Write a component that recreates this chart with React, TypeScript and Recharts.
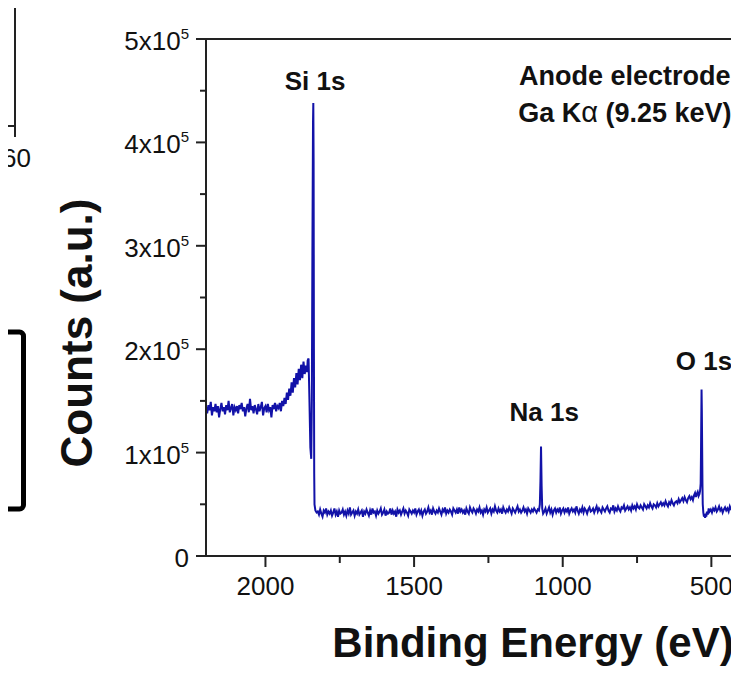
import React from 'react';
import { LineChart, Line, XAxis, YAxis, ReferenceLine, ReferenceDot, Label } from 'recharts';

const FONT = '"Liberation Sans", Arial, Helvetica, sans-serif';
const INK = '#222222';
const TXT = '#111111';
const BLUE = '#1212a8';

// Binding energy (eV), descending
const energy = [
  // high-energy background
  2200, 2196, 2192, 2188, 2184, 2180, 2176, 2172, 2168, 2164,
  2160, 2156, 2152, 2148, 2144, 2140, 2136, 2132, 2128, 2124,
  2120, 2116, 2112, 2108, 2104, 2100, 2096, 2092, 2088, 2084,
  2080, 2076, 2072, 2068, 2064, 2060, 2056, 2052, 2048, 2044,
  2040, 2036, 2032, 2028, 2024, 2020, 2016, 2012, 2008, 2004,
  2000, 1996, 1992, 1988, 1984, 1980, 1976, 1972, 1968, 1964,
  1960,
  // Si 1s edge and peak
  1956, 1952, 1948, 1944, 1940, 1936, 1932, 1928, 1924, 1920,
  1916, 1912, 1908, 1904, 1900, 1896, 1892, 1888, 1884, 1880,
  1876, 1872, 1868, 1864, 1860,
  1858, 1855, 1852, 1849, 1846, 1844, 1842, 1840, 1839, 1838,
  1837, 1836, 1835, 1832, 1828,
  // flat background
  1824, 1820, 1816, 1812, 1808, 1804, 1800, 1796, 1792, 1788,
  1784, 1780, 1776, 1772, 1768, 1764, 1760, 1756, 1752, 1748,
  1744, 1740, 1736, 1732, 1728, 1724, 1720, 1716, 1712, 1708,
  1704, 1700, 1696, 1692, 1688, 1684, 1680, 1676, 1672, 1668,
  1664, 1660, 1656, 1652, 1648, 1644, 1640, 1636, 1632, 1628,
  1624, 1620, 1616, 1612, 1608, 1604, 1600, 1596, 1592, 1588,
  1584, 1580, 1576, 1572, 1568, 1564, 1560, 1556, 1552, 1548,
  1544, 1540, 1536, 1532, 1528, 1524, 1520, 1516, 1512, 1508,
  1504, 1500, 1496, 1492, 1488, 1484, 1480, 1476, 1472, 1468,
  1464, 1460, 1456, 1452, 1448, 1444, 1440, 1436, 1432, 1428,
  1424, 1420, 1416, 1412, 1408, 1404, 1400, 1396, 1392, 1388,
  1384, 1380, 1376, 1372, 1368, 1364, 1360, 1356, 1352, 1348,
  1344, 1340, 1336, 1332, 1328, 1324, 1320, 1316, 1312, 1308,
  1304, 1300, 1296, 1292, 1288, 1284, 1280, 1276, 1272, 1268,
  1264, 1260, 1256, 1252, 1248, 1244, 1240, 1236, 1232, 1228,
  1224, 1220, 1216, 1212, 1208, 1204, 1200, 1196, 1192, 1188,
  1184, 1180, 1176, 1172, 1168, 1164, 1160, 1156, 1152, 1148,
  1144, 1140, 1136, 1132, 1128, 1124, 1120, 1116, 1112, 1108,
  1104, 1100, 1096, 1092, 1088, 1084,
  // Na 1s
  1080, 1077, 1075, 1073, 1071, 1069, 1066,
  // background
  1062, 1058, 1054, 1050, 1046, 1042, 1038, 1034, 1030, 1026,
  1022, 1018, 1014, 1010, 1006, 1002, 998, 994, 990, 986,
  982, 978, 974, 970, 966, 962, 958, 954, 950, 946,
  942, 938, 934, 930, 926, 922, 918, 914, 910, 906,
  902, 898, 894, 890, 886, 882, 878, 874, 870, 866,
  862, 858, 854, 850, 846, 842, 838, 834, 830, 826,
  822, 818, 814, 810, 806, 802, 798, 794, 790, 786,
  782, 778, 774, 770, 766, 762, 758, 754, 750, 746,
  742, 738, 734, 730, 726, 722, 718, 714, 710, 706,
  702, 698, 694, 690, 686, 682, 678, 674, 670, 666,
  662, 658, 654, 650, 646, 642, 638, 634, 630, 626,
  622,
  // O 1s
  618, 614, 610, 606, 602, 598, 594, 590, 586, 582,
  578, 574, 570, 566, 562, 558, 555, 552, 549, 546,
  543, 540, 538, 536, 535, 534, 533, 532, 531, 530,
  529, 527, 525, 523, 521, 519, 517, 515, 512, 509,
  506,
  // low-energy background
  502, 498, 494, 490, 486, 482, 478, 474, 470, 466,
  462, 458, 454, 450, 446, 442, 438, 434, 430, 426,
  422, 418, 414, 410, 406, 402, 398, 394,
];

// Counts in units of 10^3
const countsK = [
  143, 138, 146, 141, 149, 136, 144, 140, 147, 139,
  145, 134, 142, 148, 140, 144, 137, 146, 141, 150,
  139, 143, 147, 136, 144, 141, 145, 138, 146, 142,
  148, 140, 144, 135, 143, 147, 139, 152, 141, 145,
  138, 146, 142, 137, 147, 140, 144, 149, 136, 143,
  145, 139, 147, 141, 144, 134, 146, 142, 148, 140,
  145,
  143, 148, 140, 150, 145, 153, 147, 158, 151, 162,
  155, 168, 158, 172, 163, 177, 166, 181, 170, 185,
  172, 188, 176, 184, 178,
  189, 191, 150, 105, 94, 150, 300, 420, 438, 380,
  200, 80, 50, 44, 42,
  43, 40, 45, 41, 38, 44, 42, 46, 40, 43,
  41, 44, 39, 42, 46, 40, 43, 38, 44, 41,
  42, 45, 40, 43, 39, 44, 41, 47, 40, 42,
  44, 39, 43, 41, 45, 40, 42, 44, 38, 43,
  41, 45, 42, 39, 44, 40, 46, 42, 43, 39,
  44, 41, 43, 46, 40, 42, 45, 39, 43, 41,
  42, 46, 40, 44, 41, 43, 38, 45, 42, 44,
  40, 43, 46, 41, 44, 42, 39, 45, 43, 41,
  44, 42, 46, 40, 43, 45, 41, 44, 39, 43,
  45, 41, 43, 47, 42, 44, 40, 46, 43, 41,
  44, 42, 46, 43, 40, 45, 43, 47, 41, 44,
  42, 45, 43, 40, 46, 44, 42, 45, 41, 47,
  43, 45, 42, 44, 40, 46, 43, 41, 47, 44,
  42, 46, 44, 41, 45, 43, 47, 42, 44, 40,
  45, 43, 47, 42, 44, 46, 41, 45, 43, 48,
  44, 42, 46, 43, 45, 41, 47, 44, 42, 45,
  43, 47, 44, 41, 46, 44, 42, 45, 48, 43,
  45, 42, 44, 47, 43, 45, 41, 46, 44, 42,
  45, 43, 46, 44, 42, 45,
  44, 50, 72, 106, 68, 46, 41,
  43, 46, 41, 44, 47, 42, 45, 40, 44, 46,
  42, 45, 43, 47, 41, 44, 46, 42, 45, 43,
  47, 41, 44, 46, 43, 45, 42, 48, 44, 41,
  45, 43, 47, 42, 46, 44, 41, 45, 47, 43,
  44, 46, 42, 45, 48, 43, 46, 44, 42, 47,
  45, 43, 46, 48, 44, 42, 46, 45, 49, 43,
  46, 44, 48, 45, 43, 47, 46, 49, 44, 46,
  48, 45, 47, 44, 49, 46, 48, 45, 50, 47,
  46, 49, 47, 45, 50, 48, 46, 49, 47, 51,
  48, 46, 50, 49, 47, 51, 48, 50, 52, 49,
  51, 49, 53, 50, 48, 52, 50, 54, 51, 49,
  52,
  53, 51, 55, 52, 54, 56, 53, 57, 54, 52,
  56, 58, 55, 57, 54, 59, 61, 57, 60, 62,
  58, 60, 63, 70, 95, 130, 161, 140, 105, 70,
  50, 42, 38, 40, 37, 41, 38, 43, 40, 46,
  43,
  45, 42, 46, 44, 47, 43, 45, 48, 44, 46,
  42, 45, 47, 44, 46, 43, 48, 45, 44, 46,
  42, 45, 47, 44, 46, 43, 45, 47,
];

const xMajorTicks = [2000, 1500, 1000, 500];
const xMinorTicks = [1750, 1250, 750];
const yMajorTicks = [0, 100000, 200000, 300000, 400000, 500000];
const yMinorTicks = [50000, 150000, 250000, 350000, 450000];

const xTicks = [...xMajorTicks, ...xMinorTicks].sort((a, b) => b - a);
const yTicks = [...yMajorTicks, ...yMinorTicks].sort((a, b) => a - b);

const data = energy.map((e, i) => ({ energy: e, counts: countsK[i] * 1000 }));

const YTick = (props: any) => {
  const { x, y, payload } = props;
  const v = payload.value;
  const major = yMajorTicks.includes(v);
  return (
    <g>
      <line x1={x} x2={x - (major ? 10 : 6)} y1={y} y2={y} stroke={INK} strokeWidth={2} />
      {major && (
        <text x={x - 17} y={y + 11} textAnchor="end" fontFamily={FONT} fontSize={26} fill={TXT}>
          {v === 0 ? (
            '0'
          ) : (
            <>
              {`${v / 100000}x10`}
              <tspan dy={-11} fontSize={15}>5</tspan>
            </>
          )}
        </text>
      )}
    </g>
  );
};

const XTick = (props: any) => {
  const { x, y, payload } = props;
  const v = payload.value;
  const major = xMajorTicks.includes(v);
  return (
    <g>
      <line x1={x} x2={x} y1={y} y2={y + (major ? 11 : 7)} stroke={INK} strokeWidth={2} />
      {major && (
        <text x={x} y={y + 39} textAnchor="middle" fontFamily={FONT} fontSize={26} fill={TXT}>
          {String(v)}
        </text>
      )}
    </g>
  );
};

const boldStyle = { fontFamily: FONT, fontSize: 26, fontWeight: 700, fill: TXT };

const YLabel = (p: any) => {
  const vb = p.viewBox;
  const cx = vb.x + 84;
  const cy = vb.y + vb.height / 2 + 35.5;
  return (
    <text
      x={cx}
      y={cy}
      transform={`rotate(-90 ${cx} ${cy})`}
      textAnchor="middle"
      fontFamily={FONT}
      fontSize={44}
      fontWeight={700}
      fill={TXT}
    >
      Counts (a.u.)
    </text>
  );
};

const SourceLabel = (p: any) => {
  const vb = p.viewBox;
  const cx = vb.x + vb.width / 2;
  const cy = vb.y + vb.height / 2;
  return (
    <text x={cx} y={cy} textAnchor="middle" fontFamily={FONT} fontSize={27} fontWeight={700} fill={TXT}>
      <tspan x={cx} dy={9.4}>Anode electrode</tspan>
      <tspan x={cx} dy={37}>
        Ga K<tspan fontWeight={400} fontSize={29}>α</tspan> (9.25 keV)
      </tspan>
    </text>
  );
};

export default function App() {
  return (
    <div style={{ position: 'relative', width: 731, height: 666, marginBottom: -8 }}>
      <div style={{ width: 731, height: 666, overflow: 'hidden' }}>
        <LineChart width={872} height={666} data={data} margin={{ top: 31, right: 20, bottom: 0, left: 0 }}>
          <XAxis
            dataKey="energy"
            type="number"
            domain={[0, 2200]}
            reversed
            ticks={xTicks}
            interval={0}
            tick={<XTick />}
            tickLine={false}
            tickSize={0}
            tickMargin={0}
            axisLine={{ stroke: INK, strokeWidth: 2 }}
            height={118}
          >
            <Label
              value="Binding Energy (eV)"
              position="insideBottom"
              offset={17}
              style={{ fontFamily: FONT, fontSize: 42, fontWeight: 700, fill: TXT }}
            />
          </XAxis>
          <YAxis
            type="number"
            domain={[0, 500000]}
            ticks={yTicks}
            interval={0}
            tick={<YTick />}
            tickLine={false}
            tickSize={0}
            tickMargin={0}
            axisLine={{ stroke: INK, strokeWidth: 2 }}
            width={198}
          >
            <Label content={YLabel} />
          </YAxis>
          <ReferenceLine y={500000} stroke={INK} strokeWidth={2} />
          <Line
            type="linear"
            dataKey="counts"
            stroke={BLUE}
            strokeWidth={2}
            dot={false}
            isAnimationActive={false}
          />
          <ReferenceDot x={1833} y={459400} r={0} fill="none" stroke="none"
            label={{ value: 'Si 1s', position: 'center', style: boldStyle }} />
          <ReferenceDot x={1062} y={139700} r={0} fill="none" stroke="none"
            label={{ value: 'Na 1s', position: 'center', style: boldStyle }} />
          <ReferenceDot x={525} y={189100} r={0} fill="none" stroke="none"
            label={{ value: 'O 1s', position: 'center', style: boldStyle }} />
          <ReferenceDot x={791} y={464400} r={0} fill="none" stroke="none"
            label={{ content: SourceLabel }} />
        </LineChart>
      </div>
      <svg
        width={60}
        height={674}
        style={{ position: 'absolute', left: -8, top: -8, overflow: 'visible' }}
      >
        <line x1={15} x2={15} y1={0} y2={137} stroke={INK} strokeWidth={2} />
        <line x1={0} x2={15} y1={126} y2={126} stroke={INK} strokeWidth={2} />
        <text x={16.5} y={167} textAnchor="middle" fontFamily={FONT} fontSize={26} fill={TXT}>60</text>
        <rect x={-10} y={332} width={33.5} height={177} rx={4} fill="none" stroke="#000" strokeWidth={5} />
      </svg>
    </div>
  );
}
